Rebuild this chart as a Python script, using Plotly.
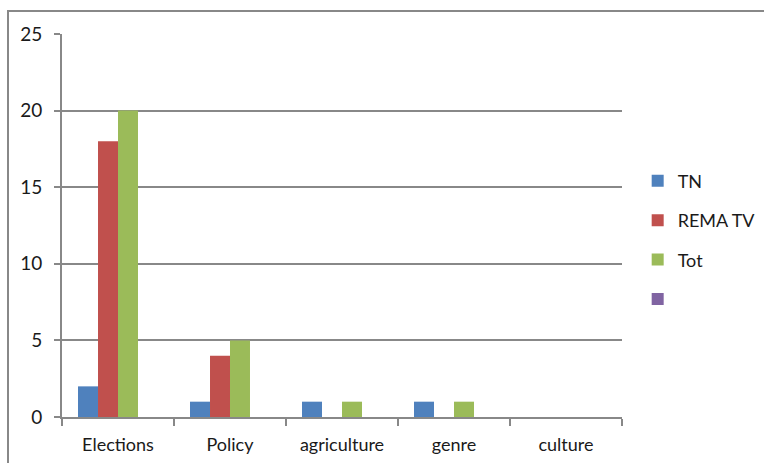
import plotly.graph_objects as go

categories = ["Elections", "Policy", "agriculture", "genre", "culture"]
tn = [2, 1, 1, 1, 0]
rema_tv = [18, 4, 0, 0, 0]
tot = [20, 5, 1, 1, 0]
empty_series = [None, None, None, None, None]
y_ticks = [0, 5, 10, 15, 20, 25]

series = [
    ("TN", tn, "#4F81BD", "g1"),
    ("REMA TV", rema_tv, "#C0504D", "g2"),
    ("Tot", tot, "#9BBB59", "g3"),
    (" ", empty_series, "#8064A2", "g4"),
]

FONT = "Lato"
fig = go.Figure()
for name, vals, col, grp in series:
    fig.add_trace(go.Bar(
        x=categories, y=vals, name=name, marker_color=col,
        marker_line_width=0, legendgroup=grp, showlegend=True,
    ))

fig.update_layout(
    width=764, height=463,
    margin=dict(l=62, r=142, t=34, b=46, autoexpand=False),
    paper_bgcolor="white", plot_bgcolor="white",
    barmode="group", bargap=0.286, bargroupgap=0,
    font=dict(family=FONT, size=18, color="#1a1a1a"),
    legend=dict(x=1.028, y=0.462, xanchor="left", yanchor="middle",
                traceorder="grouped", tracegroupgap=13,
                font=dict(size=18, family=FONT)),
    xaxis=dict(showline=True, linecolor="#888888", linewidth=2,
               ticks="outside", tickson="boundaries", ticklen=7,
               tickcolor="#888888", tickwidth=2, ticklabelstandoff=10,
               tickfont=dict(size=18, family=FONT), showgrid=False,
               automargin=False),
    yaxis=dict(range=[0, 25], tickvals=y_ticks, showline=True,
               linecolor="#888888", linewidth=2,
               ticks="outside", ticklen=6, tickcolor="#888888", tickwidth=2,
               showgrid=True, gridcolor="#888888", gridwidth=2,
               zeroline=False, ticklabelstandoff=8, automargin=False,
               tickfont=dict(size=19, family=FONT)),
    showlegend=True,
)

fig.add_shape(type="rect", xref="paper", yref="paper",
              x0=(8 - 62) / 560, x1=(780 - 62) / 560,
              y0=(417 - 480) / 383, y1=(417 - 11) / 383,
              line=dict(color="#888888", width=2), layer="below")

fig.write_html("out.html")
